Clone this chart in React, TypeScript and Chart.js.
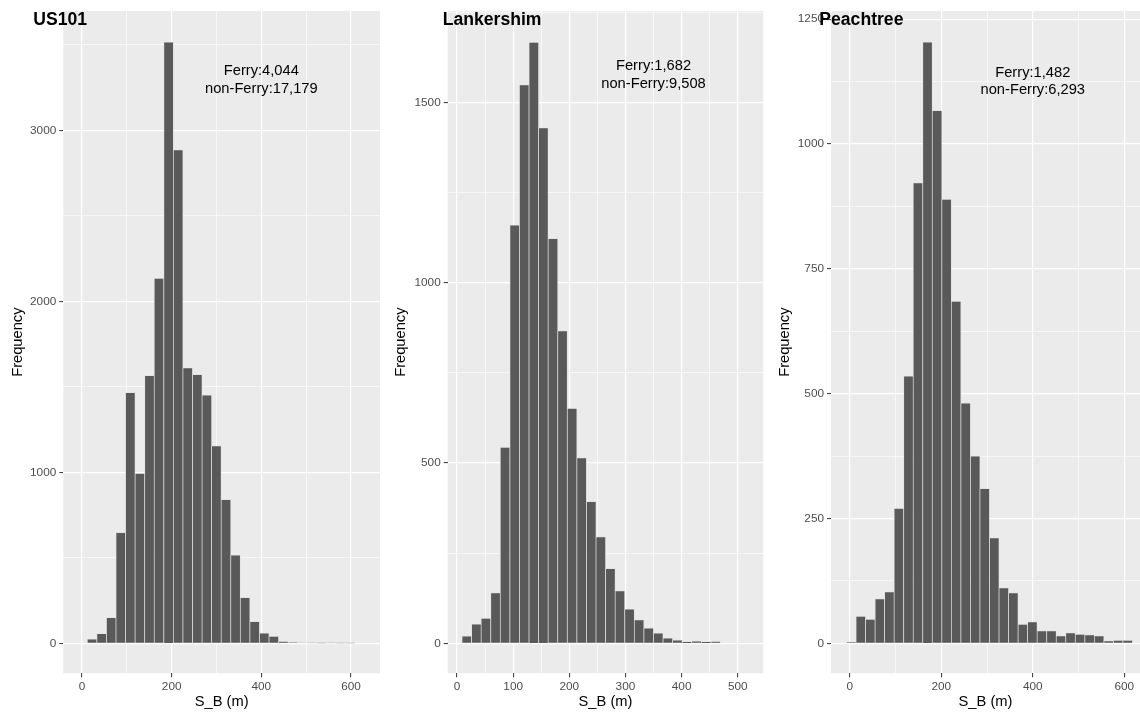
import React, { useEffect, useRef } from 'react';
import { Chart, registerables } from 'chart.js';

Chart.register(...registerables);

const FONT = '"Liberation Sans", Arial, Helvetica, sans-serif';

// ---------- US101 ----------
const us101Name = 'US101';
const us101BinMids = [22.5, 43.8, 65.2, 86.5, 107.8, 129.2, 150.5, 171.8, 193.2, 214.5, 235.8, 257.2, 278.5, 299.8, 321.2, 342.5, 363.8, 385.2, 406.5, 427.8, 449.2, 470.5, 491.8, 513.2, 534.5, 555.8, 577.2, 598.5];
const us101Counts = [25, 56, 150, 647, 1466, 993, 1565, 2134, 3516, 2885, 1610, 1571, 1452, 1154, 840, 515, 267, 127, 60, 41, 10, 4, 3, 2, 1, 2, 1, 1];
const us101XMajor = [0, 200, 400, 600];
const us101XMinor = [100, 300, 500];
const us101YMajor = [0, 1000, 2000, 3000];
const us101YMinor = [500, 1500, 2500, 3500];
const us101Note = ['Ferry:4,044', 'non-Ferry:17,179'];

// ---------- Lankershim ----------
const lankName = 'Lankershim';
const lankBinMids = [17.4, 34.5, 51.5, 68.6, 85.6, 102.7, 119.7, 136.8, 153.8, 170.9, 187.9, 205.0, 222.0, 239.1, 256.1, 273.2, 290.2, 307.3, 324.3, 341.4, 358.4, 375.5, 392.5, 409.6, 426.6, 443.7, 460.7];
const lankCounts = [20, 53, 69, 140, 543, 1159, 1548, 1666, 1429, 1122, 866, 651, 514, 393, 295, 207, 145, 95, 65, 42, 28, 14, 9, 4, 6, 4, 5];
const lankXMajor = [0, 100, 200, 300, 400, 500];
const lankXMinor = [50, 150, 250, 350, 450];
const lankYMajor = [0, 500, 1000, 1500];
const lankYMinor = [250, 750, 1250, 1750];
const lankNote = ['Ferry:1,682', 'non-Ferry:9,508'];

// ---------- Peachtree ----------
const peachName = 'Peachtree';
const peachBinMids = [3.4, 24.2, 45.0, 65.9, 86.7, 107.5, 128.4, 149.2, 170.0, 190.9, 211.7, 232.5, 253.4, 274.2, 295.0, 315.9, 336.7, 357.5, 378.4, 399.2, 420.0, 440.9, 461.7, 482.5, 503.4, 524.2, 545.0, 565.9, 586.7, 607.5];
const peachCounts = [2, 54, 48, 89, 103, 270, 535, 922, 1204, 1067, 889, 685, 481, 375, 310, 211, 111, 101, 38, 43, 25, 25, 15, 21, 18, 17, 15, 5, 6, 6];
const peachXMajor = [0, 200, 400, 600];
const peachXMinor = [100, 300, 500];
const peachYMajor = [0, 250, 500, 750, 1000, 1250];
const peachYMinor = [125, 375, 625, 875, 1125];
const peachNote = ['Ferry:1,482', 'non-Ferry:6,293'];

const xTitle = 'S_B (m)';
const yTitle = 'Frequency';

type PanelDef = {
  name: string;
  mids: number[];
  counts: number[];
  xMajor: number[];
  xMinor: number[];
  yMajor: number[];
  yMinor: number[];
  note: string[];
  noteX: number;
  noteY: number;
  xMin: number;
  xMax: number;
  yMin: number;
  yMax: number;
  left: number;
  width: number;
  plotLeft: number;
  padRight: number;
  titleX: number;
  yTitlePad: number;
};

const panels: PanelDef[] = [
  {
    name: us101Name, mids: us101BinMids, counts: us101Counts,
    xMajor: us101XMajor, xMinor: us101XMinor, yMajor: us101YMajor, yMinor: us101YMinor,
    note: us101Note, noteX: 400, noteY: 3295,
    xMin: -41.7, xMax: 664.7, yMin: -175.4, yMax: 3697.7,
    left: 0, width: 380, plotLeft: 63.3, padRight: 0, titleX: 33.3, yTitlePad: 9,
  },
  {
    name: lankName, mids: lankBinMids, counts: lankCounts,
    xMajor: lankXMajor, xMinor: lankXMinor, yMajor: lankYMajor, yMinor: lankYMinor,
    note: lankNote, noteX: 350, noteY: 1575,
    xMin: -16.6, xMax: 545.5, yMin: -83.2, yMax: 1753,
    left: 380, width: 384, plotLeft: 67.7, padRight: 0.7, titleX: 62.7, yTitlePad: 12,
  },
  {
    name: peachName, mids: peachBinMids, counts: peachCounts,
    xMajor: peachXMajor, xMinor: peachXMinor, yMajor: peachYMajor, yMinor: peachYMinor,
    note: peachNote, noteX: 400, noteY: 1125,
    xMin: -40.9, xMax: 634.3, yMin: -60.1, yMax: 1266.4,
    left: 764, width: 376, plotLeft: 67, padRight: 0, titleX: 55.3, yTitlePad: 12,
  },
];

const HEIGHT = 712;
const PLOT_TOP = 11;
const PLOT_BOTTOM = 673.3;

function Panel({ p }: { p: PanelDef }) {
  const ref = useRef<HTMLCanvasElement | null>(null);
  useEffect(() => {
    if (!ref.current) return;
    const xTicks = [...p.xMajor, ...p.xMinor].sort((a, b) => a - b);
    const yTicks = [...p.yMajor, ...p.yMinor].sort((a, b) => a - b);
    const isXMajor = (v: any) => p.xMajor.includes(Number(v));
    const isYMajor = (v: any) => p.yMajor.includes(Number(v));
    const tickVal = (ctx: any) => (ctx && ctx.tick ? ctx.tick.value : NaN);

    const bgPlugin = {
      id: 'panelBg',
      beforeDraw(chart: any) {
        const { ctx, chartArea } = chart;
        ctx.save();
        ctx.fillStyle = '#EBEBEB';
        ctx.fillRect(chartArea.left, chartArea.top, chartArea.right - chartArea.left, chartArea.bottom - chartArea.top);
        ctx.restore();
      },
    };
    const textPlugin = {
      id: 'panelText',
      afterDraw(chart: any) {
        const { ctx } = chart;
        const xs = chart.scales.x;
        const ys = chart.scales.y;
        const cx = xs.getPixelForValue(p.noteX);
        const cy = ys.getPixelForValue(p.noteY);
        ctx.save();
        ctx.fillStyle = '#000000';
        ctx.font = `14.7px ${FONT}`;
        ctx.textAlign = 'center';
        ctx.textBaseline = 'middle';
        ctx.fillText(p.note[0], cx, cy - 8.8);
        ctx.fillText(p.note[1], cx, cy + 8.8);
        ctx.font = `bold 17.6px ${FONT}`;
        ctx.textAlign = 'left';
        ctx.textBaseline = 'alphabetic';
        ctx.fillText(p.name, p.titleX, 25);
        ctx.restore();
      },
    };

    const chart = new Chart(ref.current, {
      type: 'bar',
      data: {
        datasets: [
          {
            data: p.mids.map((x, i) => ({ x, y: p.counts[i] })),
            backgroundColor: '#595959',
            borderColor: '#dedede',
            borderWidth: 0.7,
            barPercentage: 1,
            categoryPercentage: 1,
          } as any,
        ],
      },
      options: {
        animation: false,
        responsive: false,
        devicePixelRatio: 1,
        layout: { padding: { left: 0, top: PLOT_TOP, right: p.padRight, bottom: 0 } },
        plugins: {
          legend: { display: false },
          tooltip: { enabled: false },
          title: { display: false },
        },
        scales: {
          x: {
            type: 'linear',
            offset: false,
            min: p.xMin,
            max: p.xMax,
            afterBuildTicks: (s: any) => {
              s.ticks = xTicks.map((v) => ({ value: v }));
            },
            afterFit: (s: any) => {
              s.height = HEIGHT - PLOT_BOTTOM;
            },
            border: { display: false },
            grid: {
              offset: false,
              color: '#FFFFFF',
              lineWidth: (ctx: any) => (isXMajor(tickVal(ctx)) ? 1.2 : 0.6),
              tickColor: (ctx: any) => (isXMajor(tickVal(ctx)) ? '#333333' : 'rgba(0,0,0,0)'),
              tickLength: 4,
              tickWidth: 1,
            },
            ticks: {
              autoSkip: false,
              maxRotation: 0,
              padding: 2,
              color: '#4D4D4D',
              font: { family: FONT, size: 11.8 },
              callback: (v: any) => (isXMajor(v) ? String(v) : ''),
            },
            title: {
              display: true,
              text: xTitle,
              color: '#000000',
              font: { family: FONT, size: 14.7 },
              padding: { top: 0, bottom: 1 },
            },
          },
          y: {
            type: 'linear',
            min: p.yMin,
            max: p.yMax,
            afterBuildTicks: (s: any) => {
              s.ticks = yTicks.map((v) => ({ value: v }));
            },
            afterFit: (s: any) => {
              s.width = p.plotLeft;
            },
            border: { display: false },
            grid: {
              color: '#FFFFFF',
              lineWidth: (ctx: any) => (isYMajor(tickVal(ctx)) ? 1.2 : 0.6),
              tickColor: (ctx: any) => (isYMajor(tickVal(ctx)) ? '#333333' : 'rgba(0,0,0,0)'),
              tickLength: 4,
              tickWidth: 1,
            },
            ticks: {
              autoSkip: false,
              padding: 3,
              color: '#4D4D4D',
              font: { family: FONT, size: 11.8 },
              callback: (v: any) => (isYMajor(v) ? String(v) : ''),
            },
            title: {
              display: true,
              text: yTitle,
              color: '#000000',
              font: { family: FONT, size: 14.7 },
              padding: { top: p.yTitlePad, bottom: 0 },
            },
          },
        },
      } as any,
      plugins: [bgPlugin, textPlugin],
    });
    return () => chart.destroy();
  }, [p]);

  return (
    <canvas
      ref={ref}
      width={p.width}
      height={HEIGHT}
      style={{ position: 'absolute', left: p.left, top: 0, width: p.width, height: HEIGHT }}
    />
  );
}

export default function App() {
  return (
    <div style={{ position: 'absolute', left: 0, top: 0, width: 1140, height: HEIGHT, background: '#FFFFFF', overflow: 'hidden' }}>
      {panels.map((p) => (
        <Panel key={p.name} p={p} />
      ))}
    </div>
  );
}
